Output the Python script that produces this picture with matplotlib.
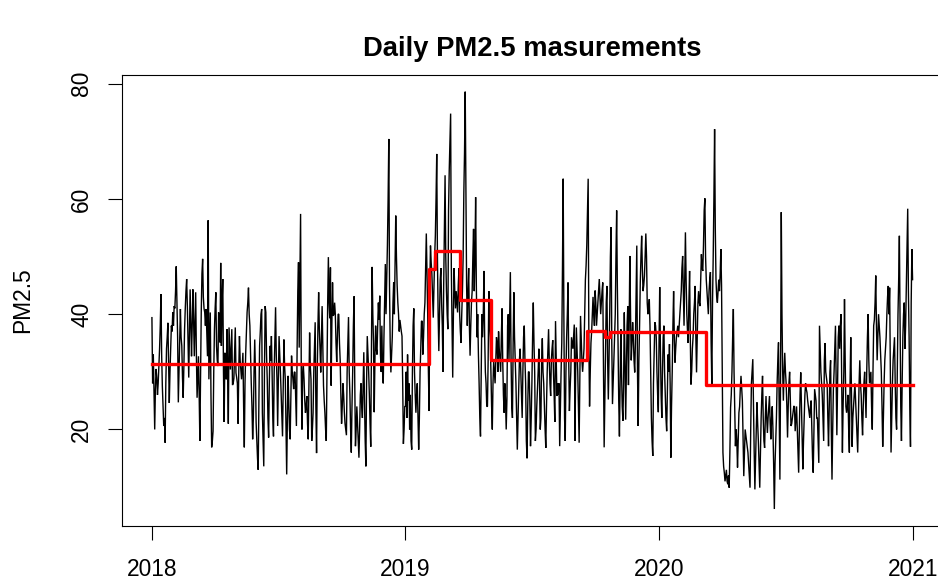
import numpy as np
import pandas as pd
import matplotlib
matplotlib.use("Agg")
import matplotlib.pyplot as plt

# Daily PM2.5 readings, one value per day
pm25_2018 = [
    39.4, 28, 33, 26, 20, 27, 30.5, 29, 26, 28,
    31, 34, 38, 43.5, 33, 27.5, 24, 20.6, 22, 17.7,
    28, 34, 36, 38.5, 31, 24.6, 30, 34, 38, 37,
    40.3, 38, 41.4, 41, 44, 48.3, 42, 36, 24.7, 30,
    36, 40.9, 36, 34.5, 29, 25.5, 31, 37.4, 41, 44,
    46.1, 41.4, 35, 29, 37, 44.3, 38, 32.7, 38, 44.3,
    39, 32.7, 38, 43.8, 33, 25.5, 29, 32.7, 26, 18,
    30, 40.3, 47, 49.6, 43, 41, 40.3, 38, 40.9, 37,
    32.7, 56.3, 28.7, 35, 40.3, 26, 16.9, 18, 19.7, 30,
    37.4, 41, 43.8, 34.5, 32, 31, 40.3, 38, 35.1, 48.9,
    34.5, 42, 46.1, 30, 21.3, 33.3, 30, 28.7, 37.4, 30,
    21, 37.7, 34, 30.4, 34, 37.4, 27.7, 28, 28.9, 33,
    37.7, 29.8, 29, 28, 21, 30, 36.2, 32, 30.4, 28.7,
    31, 33.3, 24, 16.9, 28, 33.3, 37, 40.3,
    42, 44.6, 40, 38, 33, 28, 24, 18.3, 22, 30,
    35.6, 30, 21.2, 18, 15, 13, 25, 34.5, 37, 40,
    40.9, 22.9, 18, 13.6, 30, 41.4, 40.3, 33, 28.7, 22,
    18.6, 28, 34.5, 32, 36.2, 30, 22, 18.8, 30, 36,
    41.2, 33, 28.7, 20.6, 28, 36.2, 33, 29.9, 26, 22,
    18.8, 27, 35.6, 31, 28.7, 20, 12.2, 22, 29.3, 25,
    20, 18.3, 26, 32.8, 30, 28.7, 27, 30, 29.9, 25,
    20.6, 34, 44, 49, 34.2, 45, 57.4, 30, 20, 29.9,
    31, 28.7, 25, 22.9, 24, 25.8, 21, 18.3, 27, 36.8,
    31, 28.7, 18, 20, 22.9, 30, 34, 38.6, 24, 15.9,
    30, 38, 43.8, 37.4, 34, 29.9, 36, 41.4, 35, 27.6,
    25, 22.9, 20, 18, 30, 42, 49.9, 42, 39.3, 48.1,
    27.6, 38, 45.5, 39.7, 40, 42, 40, 35, 31.7, 36,
    40,
    40, 35, 32, 26, 21, 24, 28, 26, 23, 21,
    20, 19, 30, 35, 39.5, 30, 26, 20, 16, 24,
    30, 38, 43.1, 28, 17.1, 20, 24, 21, 18, 15.1,
    20, 26, 28, 24, 22, 28, 33.4, 25, 18, 13.6,
    28, 36.2, 33, 30, 26, 21, 17, 34, 48.2, 40,
    35, 23, 32, 38, 34, 33, 38, 42, 39, 43.2,
    33, 30, 38, 30, 28, 36, 42, 48.7, 40, 46,
    52, 60, 70.4, 45, 35, 29.9, 33, 36, 42, 45.5,
    40, 48, 57.1, 50, 45, 42, 40, 37, 39, 38,
    37, 36.2, 28, 17.5, 20, 24,
]

pm25_2019 = [
    24, 30, 22, 33, 25, 28, 20, 26, 18, 16.5,
    30, 38, 41, 30, 26, 22.9, 26, 28, 22, 16.5,
    22, 30, 34, 38.8, 38.8, 33, 36, 40, 42, 48,
    54, 47, 40, 30, 23.2, 45, 51.9, 49, 47, 43,
    39.4, 45, 50, 53.6, 60, 67.8, 50,
    40, 33.6, 40, 46, 48, 42, 38, 30, 45, 55,
    64.1, 50, 44, 40, 37.4, 58, 65, 70, 74.8, 48,
    38, 29, 40, 48, 44, 41, 44, 42, 40.3, 45,
    48, 40, 37, 35, 40, 44, 50, 61, 68, 78.6,
    62, 45, 38, 44, 48, 38, 32.8, 38, 42, 44,
    50, 54.8, 44, 50, 60.3, 45, 36, 40, 33, 28,
    22, 18.8, 30, 40, 36, 40, 47.5, 36, 30, 28,
    24, 24, 32, 44, 38, 36, 30, 24, 20, 28,
    32, 30, 28, 32, 36, 35, 30, 37, 34, 32,
    30, 36, 41, 32, 26, 22.9, 28, 25, 20, 25,
    38, 40, 32, 40, 47.3, 32, 24, 22, 35, 43.8,
    36, 32, 28, 22, 16.5, 22, 27, 32, 34, 30,
    26, 22, 30, 36, 38, 32, 28, 18, 15, 24,
    30, 30,
    25, 17.1, 22, 28, 36, 42, 35, 30, 18, 20,
    24, 27, 30, 34, 28, 20, 22, 32, 35.8, 30,
    28, 24, 20, 16.8, 24, 30, 34, 37.4, 32, 28,
    25.8, 32, 34, 35.5, 30, 26, 21.3, 38.8, 32, 25.8,
    28, 26, 28, 17.1, 24, 30, 35, 48, 63.5, 40,
    22, 18, 30, 36, 40, 45.5, 32, 23.2, 27, 30,
    36, 35, 34, 36, 38.2, 18, 30, 37.7, 34, 30,
    24, 17.7, 28, 39.7, 36, 32, 30, 32, 34, 40,
    46, 48.4, 52, 58, 63.5, 35, 24, 30, 35, 37,
    40, 43, 40, 38, 44.1, 42, 38, 40, 42, 44,
    46.1, 43, 40, 42, 44, 45.5, 32, 16.9, 25, 34,
    42, 44.9, 32, 25.2, 32, 40, 50, 55.1, 35, 24.4,
    28, 32, 36, 40, 50, 58, 45, 35, 25, 18.8,
    28, 37.4, 30, 24, 21.5, 28,
    40.3, 32, 21.7, 30, 38, 41.4, 27.7, 38, 50.1, 40,
    32, 35, 38.6, 36, 32, 29.9, 35, 44, 51.9, 30,
    20.6, 32, 38, 45.5, 50, 53.6, 48, 44, 45, 46.6,
    50, 54, 50, 42, 40, 41, 42.6, 38, 30, 22,
    18, 15.4, 28, 33, 38.6, 38, 36, 30, 26, 23,
]

pm25_2020 = [
    35, 44.7, 34, 26, 22, 30, 36, 38, 30, 26,
    22, 19.7, 26, 33, 30, 34.8, 28, 15.1, 24, 30,
    38, 44, 36, 31.6, 34, 36, 37, 38, 36, 38,
    40, 42, 44, 48, 50.1, 44, 38, 46, 54.2, 46,
    40, 37, 35, 42, 47.5, 36, 27.8, 30, 34, 36,
    40, 42, 44.9, 36, 29.9, 36, 42, 44, 42, 41.4,
    46, 50.4, 48, 47.5, 52, 58, 60.1, 50, 46, 44,
    42, 40, 44, 46, 47.3, 35, 27.8, 42, 50, 60,
    72.1, 55, 46, 43, 42, 44, 46,
    44, 47, 51.3, 45, 30, 16, 13.6, 12.5, 11, 12,
    13, 11, 10.5, 12, 9.9, 16, 23.8, 26, 30, 36,
    40.9, 30, 24, 17.1, 20, 18, 13.4, 18, 22.9, 24,
    27, 29.3, 27, 25, 18, 11.9, 16, 20, 19, 18,
    17.1, 16, 14, 12, 9.9, 20, 28, 30, 32.2, 24,
    16, 9.6, 15, 20, 24.7, 21, 18, 14, 9.9, 16,
    22, 26, 29.3, 22, 18, 16.8, 22, 25.8, 22, 19.4,
    22, 24, 25.8, 21, 18.3, 22, 24, 20, 14, 6.2,
    14, 18, 22, 28, 32, 35.1, 24, 11.3, 30, 57.7,
    40, 30, 25, 30, 33.3, 30, 28, 24, 18.6, 24,
    28, 30, 25, 20.6, 21, 22, 23, 24, 24, 19.7,
    22, 24, 20, 16, 12.5, 20, 26, 29.9, 24, 18,
    13.1, 18, 22, 26, 28, 27, 26.4, 25, 24, 23,
    22, 24, 25, 20, 15, 12.5, 20,
    27, 26, 25, 22, 22, 18, 14.2, 38, 34, 30,
    28, 26, 22, 18, 32, 35, 30, 29, 28, 22,
    17.1, 24, 30, 32, 20, 11.3, 20, 27, 30, 34,
    38, 28, 19, 28, 36, 38, 34, 38, 40, 28,
    16, 24, 30, 42.6, 32, 24, 22.9, 24, 26, 20,
    16, 28, 36, 26, 17, 22, 24, 26, 28, 25,
    22, 19, 16, 22, 28, 32, 28, 26, 22, 19,
    24, 28, 30, 26, 22, 30, 36, 40, 32, 28,
    29, 30, 24, 20, 30, 38, 39, 42, 46.7, 38,
    32, 36, 40, 38, 36, 33, 30, 24, 17, 22,
    28, 32, 34, 36, 40, 43, 44.9, 40, 44.6, 30,
    16, 22, 28, 32, 34, 36, 28, 22, 20, 30,
    40, 46, 53.6, 38, 24, 18, 28, 36, 40, 42,
    34, 38, 45, 52, 58.3, 44, 36, 24, 17, 42,
    51.3, 46,
]

# Segment means between detected change points
change_dates = ["2018-01-01", "2019-02-04", "2019-02-12", "2019-03-21",
                "2019-05-04", "2019-09-20", "2019-10-15", "2019-10-23",
                "2020-03-08", "2020-12-31"]
segment_means = [31.4, 47.8, 51.0, 42.4, 32.0, 37.1, 36.1, 36.9, 27.8]

year_ticks = ["2018-01-01", "2019-01-01", "2020-01-01", "2021-01-01"]
year_labels = ["2018", "2019", "2020", "2021"]

values = np.array(pm25_2018 + pm25_2019 + pm25_2020, dtype=float)
dates = pd.date_range("2018-01-01", periods=len(values), freq="D")

plt.rcParams["font.family"] = ["Liberation Sans", "DejaVu Sans"]

W, H = 938, 584
fig = plt.figure(figsize=(W / 100, H / 100), dpi=100)
left, right, top, bottom = 121.5, 943.0, 75.0, 525.7
ax = fig.add_axes([left / W, 1 - bottom / H, (right - left) / W, (bottom - top) / H])

ax.plot(dates, values, color="black", linewidth=1.0, solid_joinstyle="miter")

seg_x = pd.to_datetime(change_dates)
seg_y = segment_means + [segment_means[-1]]
ax.step(seg_x, seg_y, where="post", color="#FF0000", linewidth=2.4)

# R-style 4% padding around the data range
x0, x1 = matplotlib.dates.date2num(dates[0]), matplotlib.dates.date2num(dates[-1])
dx = (x1 - x0) * 0.04
ax.set_xlim(x0 - dx, x1 + dx)
ymin, ymax = values.min(), values.max()
dy = (ymax - ymin) * 0.04
ax.set_ylim(ymin - dy, ymax + dy)

ax.set_xticks(pd.to_datetime(year_ticks))
ax.set_xticklabels(year_labels)
ax.set_yticks([20, 40, 60, 80])
ax.set_yticklabels(["20", "40", "60", "80"], rotation=90, va="center")

ax.tick_params(axis="both", direction="out", length=10, width=0.8,
               labelsize=16.4, colors="black")
ax.tick_params(axis="x", pad=13)
ax.tick_params(axis="y", pad=10.5)
for s in ax.spines.values():
    s.set_linewidth(0.8)
    s.set_color("black")

fig.text(532 / W, 1 - 56.5 / H, "Daily PM2.5 masurements", ha="center",
         va="baseline", fontsize=19.7, fontweight="bold")
fig.text(22.5 / W, 1 - 300 / H, "PM2.5", rotation=90, ha="center",
         va="center", fontsize=16.4)

fig.savefig("out.png", dpi=100)
